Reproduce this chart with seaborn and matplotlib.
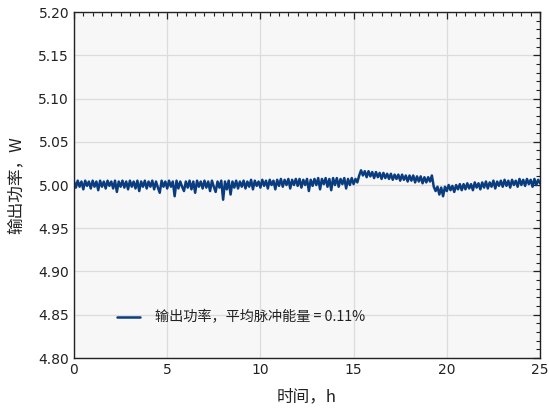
import numpy as np
import pandas as pd
import matplotlib
matplotlib.use("Agg")
import matplotlib.pyplot as plt
from matplotlib.ticker import MultipleLocator, FormatStrFormatter
import seaborn as sns

# sample times (h), one reading every 0.1 h from 0 to 25
t_start, t_end, n_pts = 0.0, 25.0, 251

power = [
    # 0 h
    5.004, 4.997, 5.005, 4.998, 5.004, 4.995, 5.005, 4.999, 5.004, 4.996,
    # 1 h
    5.005, 4.998, 5.004, 4.994, 5.005, 4.998, 5.004, 4.996, 5.005, 4.999,
    # 2 h
    5.004, 4.996, 5.005, 4.992, 5.004, 4.998, 5.005, 4.997, 5.004, 4.995,
    # 3 h
    5.005, 4.998, 5.004, 4.996, 5.005, 4.993, 5.004, 4.998, 5.005, 4.996,
    # 4 h
    5.004, 4.998, 5.005, 4.995, 5.004, 4.997, 4.991, 5.005, 4.998, 5.004,
    # 5 h
    4.996, 5.005, 4.998, 5.004, 4.987, 5.005, 4.996, 5.004, 4.998, 4.993,
    # 6 h
    5.004, 4.997, 5.005, 4.995, 5.004, 4.991, 5.005, 4.998, 5.004, 4.996,
    # 7 h
    5.005, 4.997, 5.004, 4.993, 5.005, 4.998, 4.992, 5.004, 4.997, 5.005,
    # 8 h
    4.983, 5.004, 4.995, 5.005, 4.989, 5.004, 4.997, 5.005, 4.996, 5.004,
    # 9 h
    4.998, 5.005, 4.996, 5.004, 4.998, 5.006, 4.995, 5.005, 4.999, 5.004,
    # 10 h
    4.997, 5.006, 4.999, 5.005, 4.996, 5.006, 5.000, 5.005, 4.995, 5.006,
    # 11 h
    4.999, 5.007, 4.998, 5.006, 5.000, 5.007, 4.996, 5.006, 5.000, 5.007,
    # 12 h
    4.999, 5.007, 4.997, 5.006, 5.000, 5.007, 4.993, 5.006, 4.999, 5.007,
    # 13 h
    5.000, 5.008, 4.995, 5.007, 5.001, 5.008, 4.998, 5.007, 4.994, 5.008,
    # 14 h
    5.000, 5.008, 4.998, 5.007, 5.001, 5.008, 4.996, 5.007, 5.000, 5.008,
    # 15 h
    5.001, 5.007, 5.003, 5.011, 5.017, 5.011, 5.016, 5.009, 5.016, 5.010,
    # 16 h
    5.015, 5.008, 5.015, 5.009, 5.014, 5.007, 5.014, 5.008, 5.013, 5.007,
    # 17 h
    5.013, 5.006, 5.012, 5.007, 5.012, 5.005, 5.012, 5.006, 5.011, 5.004,
    # 18 h
    5.011, 5.005, 5.011, 5.003, 5.010, 5.004, 5.010, 5.002, 5.009, 5.003,
    # 19 h
    5.009, 5.004, 5.011, 4.998, 4.993, 4.998, 4.989, 4.997, 4.987, 4.998,
    # 20 h
    4.993, 5.000, 4.994, 4.999, 4.992, 5.000, 4.995, 5.001, 4.994, 5.001,
    # 21 h
    4.995, 5.002, 4.996, 5.001, 4.994, 5.003, 4.997, 5.002, 4.995, 5.003,
    # 22 h
    4.997, 5.004, 4.996, 5.003, 4.998, 5.005, 4.996, 5.004, 4.999, 5.005,
    # 23 h
    4.998, 5.006, 4.999, 5.005, 4.997, 5.006, 5.000, 5.005, 4.998, 5.007,
    # 24 h
    5.000, 5.006, 4.999, 5.007, 5.001, 5.006, 4.998, 5.007, 5.000, 5.006,
    # 25 h
    5.002,
]

x_label = "时间，h"
y_label = "输出功率，W"
legend_label = "输出功率，平均脉冲能量 = 0.11%"

time_h = np.linspace(t_start, t_end, n_pts)
df = pd.DataFrame({"time": time_h, "power": power, "series": legend_label})

sns.set_theme(style="white")
plt.rcParams["font.family"] = ["Noto Sans CJK SC", "DejaVu Sans"]

fig = plt.figure(figsize=(5.49, 4.11), dpi=100)
ax = fig.add_axes([74 / 549, 53 / 411, 466 / 549, 346 / 411])
ax.set_facecolor("#f7f7f7")

sns.lineplot(data=df, x="time", y="power", hue="series", palette=["#0a3d80"],
             linewidth=1.8, ax=ax)

ax.set_xlim(0, 25)
ax.set_ylim(4.80, 5.20)
ax.xaxis.set_major_locator(MultipleLocator(5))
ax.xaxis.set_minor_locator(MultipleLocator(0.5))
ax.yaxis.set_major_locator(MultipleLocator(0.05))
ax.yaxis.set_minor_locator(MultipleLocator(0.01))
ax.yaxis.set_major_formatter(FormatStrFormatter("%.2f"))

ax.grid(True, which="major", color="#dcdcdc", linewidth=0.9)
ax.set_axisbelow(True)
for s in ax.spines.values():
    s.set_color("#222222")
    s.set_linewidth(1.0)

ax.tick_params(which="both", direction="in", top=True, right=True,
               colors="#222222", labelsize=10)
ax.tick_params(which="major", length=5, width=0.9)
ax.tick_params(which="minor", length=3, width=0.8)
for lab in ax.get_xticklabels() + ax.get_yticklabels():
    lab.set_family("DejaVu Sans")
    lab.set_color("#222222")

ax.set_xlabel(x_label, fontsize=12, color="#222222", labelpad=8)
ax.set_ylabel(y_label, fontsize=12, color="#222222", labelpad=10)

leg = ax.legend(loc="lower left", bbox_to_anchor=(0.065, 0.06), frameon=False,
                fontsize=10.2, handlelength=1.6, handletextpad=1.1, title=None)
for txt in leg.get_texts():
    txt.set_color("#222222")

fig.savefig("out.png", dpi=100)
